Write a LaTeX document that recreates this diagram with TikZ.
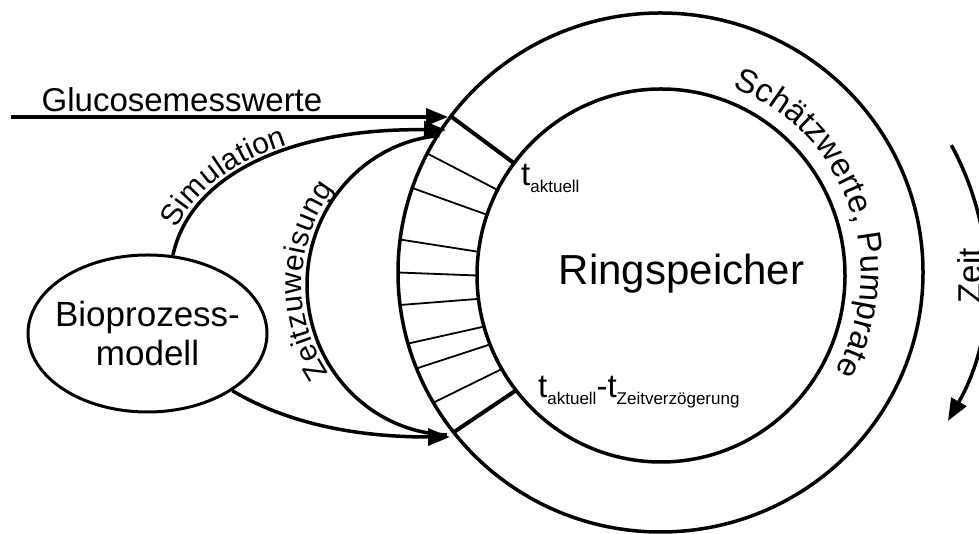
\documentclass[tikz,border=0pt]{standalone}
\usepackage{fontspec}
\setmainfont{Liberation Sans}
\usetikzlibrary{arrows.meta,shapes.geometric,decorations.text,calc}
\newcommand{\tsub}[1]{\raisebox{-7pt}{\fontsize{17}{20}\selectfont #1}}
\begin{document}
\begin{tikzpicture}[x=1pt,y=1pt,
  ring/.style={line width=3.5pt},
  conn/.style={line width=3.5pt,-{Triangle[length=22pt,width=17pt]}},
  plainline/.style={line width=3.5pt},
  thickrad/.style={line width=4pt},
  thinrad/.style={line width=1.8pt},
  lbl/.style={inner sep=0pt,font=\fontsize{33}{40}\selectfont},
]
\clip (0,0) rectangle (979,534);
% ring buffer
\coordinate (oc) at (660.5,261.5);
\coordinate (ic) at (661,258.5);
\draw[ring] (oc) ellipse[x radius=262.5,y radius=259.5];
\draw[ring] (ic) ellipse[x radius=184,y radius=186.5];
\foreach \a in {152.7,161,172.7,180,187.2,195.9,201.7,210.1}
  \draw[thinrad] ($(oc)+(\a:262.5 and 259.5)$) -- ($(ic)+(\a:184 and 186.5)$);
\foreach \a in {143,218}
  \draw[thickrad] ($(oc)+(\a:262.5 and 259.5)$) -- ($(ic)+(\a:184 and 186.5)$);
\node[lbl,font=\fontsize{42}{50}\selectfont,anchor=base] (ring) at (681.5,249) {Ringspeicher};
\node[lbl,anchor=base west] (ta) at (521,348) {t\tsub{aktuell}};
\node[lbl,anchor=base west] (tz) at (538,136) {t\tsub{aktuell}-t\tsub{Zeitverzögerung}};
\path[decorate,decoration={text along path,raise=0pt,text={|\fontsize{33}{40}\selectfont|Schätzwerte, Pumprate}}]
  ($(661,260)+(69:200)$) arc[start angle=69,end angle=-50,radius=200];
% model
\node[draw,ellipse,line width=3pt,minimum width=239pt,minimum height=157pt,inner sep=0pt,
  align=center,font=\fontsize{35}{39}\selectfont] (bio) at (147.5,200.5)
  {\makebox[0pt]{Bioprozess-}\\\makebox[0pt]{modell}};
% glucose input
\coordinate (gin) at (11,417);
\coordinate (gtip) at (448,417);
\draw[conn] (gin) -- (gtip);
\node[lbl,anchor=base west] (gl) at (41.5,422) {Glucosemesswerte};
% simulation
\coordinate (stip) at (446,404);
\draw[conn] (bio.72) .. controls (190,359) and (290,406) .. (stip);
\path[decorate,decoration={text along path,raise=5pt,text align={left indent=25pt},
  text={|\fontsize{30}{36}\selectfont|Simulation}}]
  (bio.72) .. controls (190,359) and (290,406) .. (stip);
% time assignment arc
\coordinate (zc) at (452,249);
\draw[plainline] ($(zc)+(95:145 and 150)$) arc[start angle=95,end angle=268,x radius=145,y radius=150];
\path[decorate,decoration={text along path,raise=5pt,
  text={|\fontsize{30}{36}\selectfont|Zeitzuweisung}}]
  ($(zc)+(215:145 and 150)$) arc[start angle=215,end angle=90,x radius=145,y radius=150];
% lower arrow
\coordinate (btip) at (450,97);
\draw[conn] (bio.-34) .. controls (290,109) and (360,97) .. (btip);
% time arrow
\coordinate (rc) at (661,254);
\coordinate (zt0) at ($(rc)+(26.7:325 and 300)$);
\draw[conn] (zt0) arc[start angle=26.7,end angle=-28,x radius=325,y radius=300];
\node[lbl,rotate=90,anchor=base] (zeit) at (981,258) {Zeit};
\end{tikzpicture}
\end{document}
